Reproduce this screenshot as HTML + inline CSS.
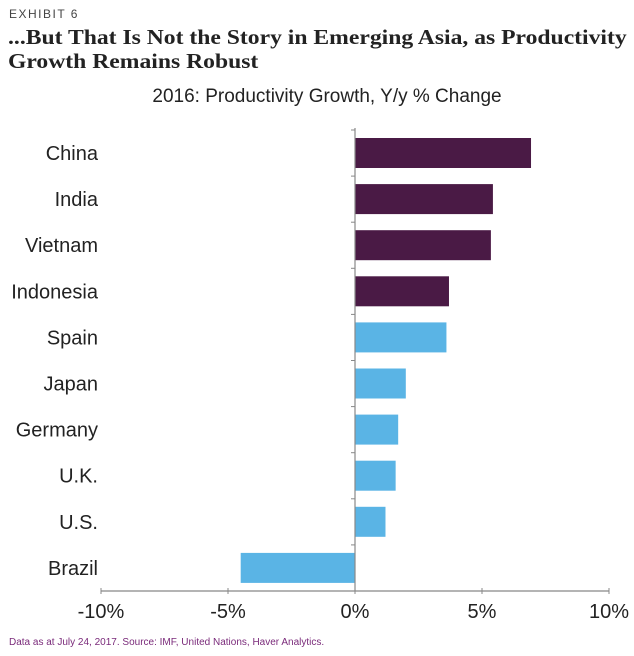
<!DOCTYPE html>
<html><head><meta charset="utf-8"><style>
body{margin:0;background:#fff;width:634px;height:656px;overflow:hidden;font-family:"Liberation Sans",sans-serif}
.ex{position:absolute;left:9px;top:7px;font-size:12px;letter-spacing:1.5px;color:#444}
.tt{position:absolute;left:8px;top:25px;font-family:"Liberation Serif",serif;font-weight:bold;font-size:21px;line-height:24px;color:#222;transform:scaleX(1.125);transform-origin:left top;white-space:nowrap}
.st{position:absolute;left:0;width:634px;text-align:center;top:86px;font-size:19px;color:#222;padding-left:10px}
.src{position:absolute;left:9px;top:637px;font-size:10px;color:#7a2a7a}
</style></head><body>
<div class="ex">EXHIBIT 6</div>
<div class="tt">...But That Is Not the Story in Emerging Asia, as Productivity<br>Growth Remains Robust</div>
<div class="st">2016: Productivity Growth, Y/y % Change</div>
<svg id="c" width="634" height="656" style="position:absolute;left:0;top:0"></svg>
<div class="src">Data as at July 24, 2017. Source: IMF, United Nations, Haver Analytics.</div>
<script>
const categories=["China","India","Vietnam","Indonesia","Spain","Japan","Germany","U.K.","U.S.","Brazil"];
const values=[6.93,5.43,5.35,3.7,3.6,2.0,1.7,1.6,1.2,-4.5];
const groups=["asia","asia","asia","asia","dev","dev","dev","dev","dev","dev"];
const ticks=[-10,-5,0,5,10];
const tickLabels=["-10%","-5%","0%","5%","10%"];
const NS="http://www.w3.org/2000/svg",svg=document.getElementById('c');
const x=v=>355+v*25.4, top0=138, pitch=46.1, bh=30, axisY=591;
function mk(t,a){const e=document.createElementNS(NS,t);for(const k in a)e.setAttribute(k,a[k]);svg.appendChild(e);return e;}
categories.forEach((c,i)=>{
  const y=top0+i*pitch,v=values[i];
  const r=mk('rect',{x:Math.min(x(0),x(v)),y:y,width:Math.abs(x(v)-x(0)),height:bh,fill:groups[i]=="asia"?"#4a1a45":"#5ab4e5"});
  
  
  const t=mk('text',{x:98,y:y+bh/2+7,'text-anchor':'end','font-size':20,fill:'#222'});t.textContent=c;
  
  
  const tk=mk('line',{x1:351,x2:355,y1:y-8,y2:y-8,stroke:'#888'});
  
  
});
const ya=mk('line',{x1:355,x2:355,y1:128,y2:axisY,stroke:'#888','stroke-width':1.2});


const xa=mk('line',{x1:x(-10),x2:x(10),y1:axisY,y2:axisY,stroke:'#888','stroke-width':1.2});


ticks.forEach((v,i)=>{
  const l=mk('line',{x1:x(v),x2:x(v),y1:axisY-3,y2:axisY+3,stroke:'#888'});
  
  
  const t=mk('text',{x:x(v),y:618,'text-anchor':'middle','font-size':20,fill:'#222'});t.textContent=tickLabels[i];
  
  
});
</script>
</body></html>
